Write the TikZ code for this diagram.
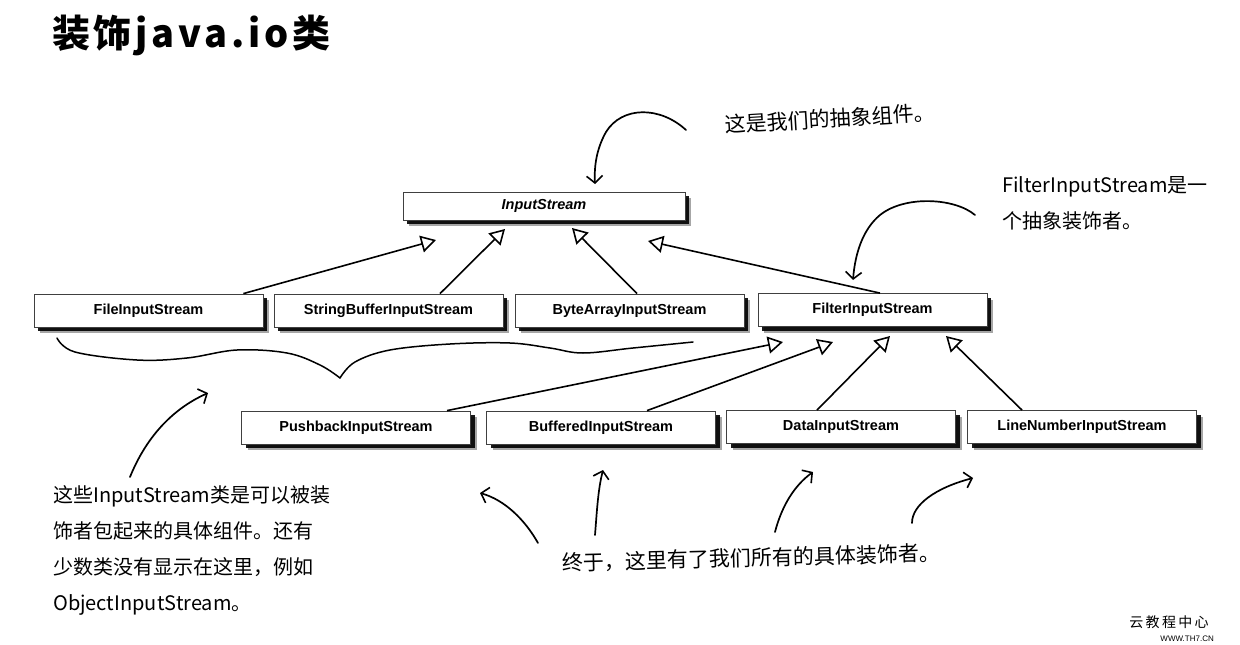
\documentclass[tikz,border=0pt]{standalone}
\usepackage{fontspec}
\setmainfont{Liberation Sans}
\newfontfamily\cjk{Noto Sans CJK SC}
\newfontfamily\cjktitle{Noto Sans CJK SC}[LetterSpace=10]
\usetikzlibrary{arrows.meta,shadows}
\tikzset{
  boxst/.style={draw=black!75, line width=0.8pt, fill=white,
    minimum width=229pt, minimum height=33pt, inner sep=0pt,
    font=\bfseries\fontsize{14.5}{16}\selectfont,
    drop shadow={shadow xshift=6pt, shadow yshift=-6pt, opacity=0.35, fill=black},
    drop shadow={shadow xshift=4pt, shadow yshift=-4pt, opacity=0.9, fill=black}},
  inh/.style={line width=1.6pt, -{Triangle[open, length=15pt, width=17pt, line width=1.6pt]}},
  hand/.style={line width=1.7pt, line cap=round, -{Straight Barb[length=7pt, width=16pt, line width=1.6pt]}},
  handline/.style={line width=1.5pt, line cap=round},
  note/.style={font=\cjk\fontsize{20}{36}\selectfont, inner sep=0pt}
}
\begin{document}
\begin{tikzpicture}[x=1pt, y=-1pt]
\fill[white] (0,0) rectangle (1240,645);
\useasboundingbox (0,0) rectangle (1240,645);

% title
\node[anchor=west, inner sep=0pt, font=\cjktitle\bfseries\fontsize{38}{40}\selectfont] (title) at (52,35) {装饰java.io类};

% boxes
\node[boxst, minimum width=282pt, minimum height=28pt, font=\bfseries\itshape\fontsize{14.5}{16}\selectfont] (is) at (544,206) {InputStream};
\node[boxst] (fis) at (148.5,310.5) {FileInputStream};
\node[boxst] (sbis) at (388.5,310.5) {StringBufferInputStream};
\node[boxst] (bais) at (629.5,310.5) {ByteArrayInputStream};
\node[boxst] (filis) at (872.5,310) {FilterInputStream};
\node[boxst] (pbis) at (356,427.5) {PushbackInputStream};
\node[boxst] (bis) at (601,427.5) {BufferedInputStream};
\node[boxst] (dis) at (841,427) {DataInputStream};
\node[boxst] (lnis) at (1082,427) {LineNumberInputStream};

% arrow tip points
\coordinate (t1) at (436,240);
\coordinate (t2) at (505,229);
\coordinate (t3) at (572,228);
\coordinate (t4) at (648,241);
\coordinate (f1) at (783,342);
\coordinate (f2) at (833,342);
\coordinate (f3) at (890,336);
\coordinate (f4) at (946,336);

% inheritance
\draw[inh] ([xshift=-20pt]fis.north east) -- (t1);
\draw[inh] ([xshift=51.5pt]sbis.north) -- (t2);
\draw[inh] ([xshift=7.5pt]bais.north) -- (t3);
\draw[inh] ([xshift=7.5pt]filis.north) -- (t4);
\draw[inh] ([xshift=91pt]pbis.north) -- (f1);
\draw[inh] ([xshift=46pt]bis.north) -- (f2);
\draw[inh] ([xshift=-24pt]dis.north) -- (f3);
\draw[inh] ([xshift=-60pt]lnis.north) -- (f4);

% annotations
\node[note, font=\cjk\fontsize{21}{36}\selectfont, anchor=west, rotate=3.5] (n1) at (725,125) {这是我们的抽象组件。};
\node[note, anchor=north west, align=left] (n2) at (1002,176) {FilterInputStream是一\\个抽象装饰者。};
\node[note, anchor=north west, align=left] (n3) at (53,485) {这些InputStream类是可以被装\\饰者包起来的具体组件。还有\\少数类没有显示在这里，例如\\ObjectInputStream。};
\node[note, font=\cjk\fontsize{21}{36}\selectfont, anchor=center, rotate=1.5] (n4) at (751,558) {终于，这里有了我们所有的具体装饰者。};

% hand-drawn arrows
\coordinate (a1s) at (686,130);
\coordinate (a1e) at (595,184);
\draw[hand] (a1s) .. controls (660,106) and (622,106) .. (606,132) .. controls (597,148) and (594,165) .. (a1e);
\coordinate (a2s) at (975,215);
\coordinate (a2e) at (853,280);
\draw[hand] (a2s) .. controls (955,198) and (905,195) .. (880,215) .. controls (862,230) and (855,255) .. (a2e);
\coordinate (a3s) at (130,477);
\coordinate (a3e) at (208,393);
\draw[hand] (a3s) .. controls (145,440) and (170,410) .. (a3e);

\coordinate (b1s) at (538,543); \coordinate (b1e) at (480,493);
\coordinate (b2s) at (595,535); \coordinate (b2e) at (603,470);
\coordinate (b3s) at (775,532); \coordinate (b3e) at (813,472);
\coordinate (b4s) at (912,523); \coordinate (b4e) at (973,478);
\draw[hand] (b1s) .. controls (525,520) and (505,500) .. (b1e);
\draw[hand] (b2s) .. controls (597,510) and (598,490) .. (b2e);
\draw[hand] (b3s) .. controls (782,505) and (795,485) .. (b3e);
\draw[hand] (b4s) .. controls (912,505) and (935,488) .. (b4e);

% brace
\draw[handline] plot[smooth, tension=0.6] coordinates {(57,338) (75,352) (137,360) (187,358) (237,350) (287,353) (320,365) (340,378)};
\draw[handline] plot[smooth, tension=0.6] coordinates {(340,378) (355,362) (390,350) (450,344) (510,343) (550,348) (583,353) (633,348) (693,342)};

% watermark
\node[anchor=center, inner sep=0pt, font=\cjk\fontsize{14}{16}\selectfont] (wm1) at (1169,622) {云\,教\,程\,中\,心};
\node[anchor=east, inner sep=0pt, font=\fontsize{8}{9}\selectfont] (wm2) at (1214,639) {WWW.TH7.CN};
\end{tikzpicture}
\end{document}
